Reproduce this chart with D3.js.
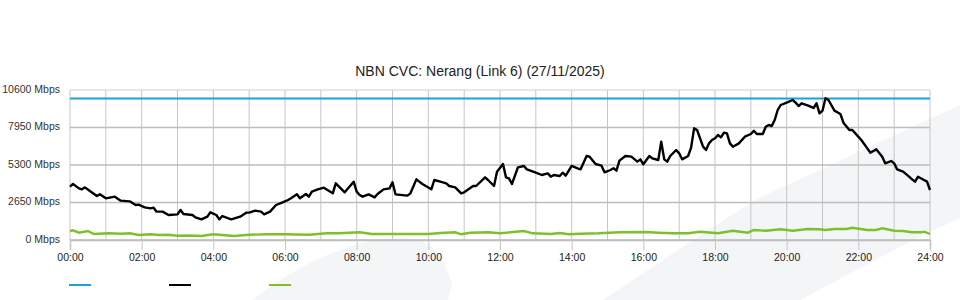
<!DOCTYPE html>
<html>
<head>
<meta charset="utf-8">
<script src="https://cdn.jsdelivr.net/npm/d3@7"></script>
<style>
  body { margin: 0; background: #fff; }
  text { font-family: "Liberation Sans", Arial, sans-serif; }
</style>
</head>
<body>
<div id="chart-holder"></div>
<script>
// chart data (minutes since midnight, Mbps)
let title = "NBN CVC: Nerang (Link 6) (27/11/2025)"
let capacityMbps = 10000
let yTicks = [0, 2650, 5300, 7950, 10600]
let xTickLabels = ["00:00","02:00","04:00","06:00","08:00","10:00","12:00","14:00","16:00","18:00","20:00","22:00","24:00"]

let inMinutes = [0,5,15,20,25,35,45,50,60,75,85,100,110,115,125,135,140,145,155,165,180,185,190,205,210,220,230,235,245,250,255,270,285,295,300,310,320,325,335,345,355,365,370,380,385,395,400,405,415,425,440,445,460,475,480,485,490,500,510,515,525,535,540,545,565,570,580,590,605,610,620,630,635,645,655,660,675,680,695,700,710,715,725,730,735,740,750,760,765,780,790,800,805,810,820,825,830,840,850,855,865,870,880,890,895,905,910,915,920,930,940,950,955,960,970,975,985,990,995,1000,1005,1015,1020,1025,1035,1040,1045,1050,1060,1065,1070,1075,1080,1085,1090,1095,1100,1105,1110,1120,1130,1140,1145,1150,1160,1165,1170,1175,1180,1185,1190,1200,1210,1215,1220,1225,1235,1240,1245,1250,1255,1260,1265,1270,1280,1290,1295,1305,1310,1315,1325,1335,1340,1350,1360,1365,1375,1380,1385,1395,1405,1410,1415,1420,1430,1435,1440]
let inMbps = [3768,3957,3650,3580,3720,3415,3110,3227,2945,3063,2780,2733,2473,2496,2308,2238,2284,2002,2002,1767,1814,2120,1837,1767,1602,1461,1649,1955,1767,1461,1696,1461,1649,1932,1932,2073,2002,1814,2002,2473,2638,2827,2945,3227,2945,3250,3062,3415,3580,3698,3298,4004,3368,4122,3415,3180,3062,3227,3015,3250,3580,3650,4075,3227,3133,3298,4286,3957,3580,4240,4122,4004,3816,3720,3298,3368,3816,3816,4428,4240,3816,4828,5370,4428,4357,3957,5135,5230,4993,4757,4593,4710,4475,4593,4523,4757,4545,5230,5066,4993,5936,5889,5370,5253,4781,4947,5066,4899,5606,5936,5889,5536,5700,5350,5936,5771,5653,6948,5700,5536,5936,6360,6124,5700,5936,6524,7891,7773,6595,6360,6830,7067,7185,7420,7255,7584,7537,6830,6595,6830,7301,7490,7725,7490,7490,8008,8127,8056,8480,9187,9540,9705,9893,9705,9470,9658,9517,9422,9328,9658,8952,9140,10013,9893,9140,8904,8291,7773,7773,7537,7067,6478,6170,6407,5889,5418,5583,5418,4993,4828,4475,4287,4122,4475,4240,4122,3533]

let outMinutes = [0,5,15,30,40,65,85,100,115,135,150,165,180,200,220,240,250,275,300,330,360,400,430,450,485,505,555,600,620,645,655,670,700,720,760,775,805,820,835,855,885,920,965,985,1010,1035,1055,1085,1110,1135,1145,1165,1190,1210,1235,1255,1265,1280,1300,1310,1335,1350,1360,1380,1395,1410,1425,1430,1440]
let outMbps = [636,685,516,636,424,473,445,473,353,403,353,375,304,318,283,403,375,283,375,403,403,375,473,473,544,424,424,424,495,544,403,516,544,473,636,473,424,495,403,445,473,544,565,516,473,473,587,473,657,516,707,657,756,657,777,756,707,777,777,869,707,707,827,657,636,544,544,587,424]

let seriesColors = ["#1ba1e2", "#000000", "#7dc02c"]

// dimensions of the page and the plot area
let width = 960, height = 300
let margin = {top: 90, right: 30, bottom: 60, left: 70}
let plotW = width - margin.left - margin.right,
    plotH = height - margin.top - margin.bottom

let svg = d3.select("#chart-holder")
  .append("svg")
    .attr("width", width)
    .attr("height", height)

// faint background swooshes
svg.append("path")
  .attr("d", "M253,300 C300,262 360,236 405,238 C432,240 442,252 452,285 L448,300 Z")
  .attr("fill", "#f4f5f7")
svg.append("path")
  .attr("d", "M603,300 L693,240 L755,200 L960,105 L960,218 L913,240 L800,300 Z")
  .attr("fill", "#f4f5f7")

let plot = svg.append("g")
  .attr("transform", "translate(" + margin.left + "," + margin.top + ")")

let x = d3.scaleLinear()
  .domain([0, 1440])
  .range([0, plotW])
let y = d3.scaleLinear()
  .domain([0, 10600])
  .range([plotH, 0])

// hourly vertical grid
plot.append("g")
  .selectAll("line")
  .data(d3.range(0, 1441, 60))
  .enter()
  .append("line")
    .attr("x1", d => x(d)).attr("x2", d => x(d))
    .attr("y1", 0).attr("y2", plotH)
    .attr("stroke", "#c6c6c6")
    .attr("stroke-width", 1)

// horizontal grid
plot.append("g")
  .selectAll("line")
  .data(yTicks)
  .enter()
  .append("line")
    .attr("x1", 0).attr("x2", plotW)
    .attr("y1", d => y(d)).attr("y2", d => y(d))
    .attr("stroke", d => d == 10600 ? "#cfcfcf" : "#bdbdbd")
    .attr("stroke-width", d => d == 10600 ? 1 : 1.5)

// y axis labels
let yAxis = plot.append("g")
  .call(d3.axisLeft(y).tickValues(yTicks).tickSize(0).tickPadding(10)
    .tickFormat(d => d + " Mbps"))
yAxis.select(".domain").remove()
yAxis.selectAll("text")
  .attr("dy", "0.2em")
  .style("font-size", "10.5px")
  .style("font-family", "'Liberation Sans', Arial, sans-serif")
  .attr("fill", "#333")

// x axis with 2-hour ticks
let xAxis = plot.append("g")
  .attr("transform", "translate(0," + plotH + ")")
  .call(d3.axisBottom(x).tickValues(d3.range(0, 1441, 120)).tickSize(10).tickPadding(4)
    .tickFormat((d, i) => xTickLabels[i]))
xAxis.select(".domain").attr("stroke", "#bdbdbd").attr("stroke-width", 1.5)
xAxis.selectAll(".tick line").attr("stroke", "#c6c6c6")
xAxis.selectAll("text")
  .style("font-size", "10.5px")
  .style("font-family", "'Liberation Sans', Arial, sans-serif")
  .attr("fill", "#222")

// series lines
let line = d3.line()
  .x(d => x(d[0]))
  .y(d => y(d[1]))

plot.append("path")
  .datum([[0, capacityMbps], [1440, capacityMbps]])
  .attr("d", line)
  .attr("fill", "none")
  .attr("stroke", seriesColors[0])
  .attr("stroke-width", 2)

plot.append("path")
  .datum(outMinutes.map((m, i) => [m, outMbps[i]]))
  .attr("d", line)
  .attr("fill", "none")
  .attr("stroke", seriesColors[2])
  .attr("stroke-width", 2.4)

plot.append("path")
  .datum(inMinutes.map((m, i) => [m, inMbps[i]]))
  .attr("d", line)
  .attr("fill", "none")
  .attr("stroke", seriesColors[1])
  .attr("stroke-width", 2.4)
  .attr("stroke-linejoin", "round")

// title
svg.append("text")
  .attr("x", width / 2)
  .attr("y", 76)
  .attr("text-anchor", "middle")
  .style("font-size", "14px")
  .attr("fill", "#222")
  .text(title)

// legend swatches (no labels in the original)
svg.append("g")
  .selectAll("line")
  .data(seriesColors)
  .enter()
  .append("line")
    .attr("x1", (d, i) => 69 + i * 100)
    .attr("x2", (d, i) => 91 + i * 100)
    .attr("y1", 285).attr("y2", 285)
    .attr("stroke", d => d)
    .attr("stroke-width", 2)
</script>
</body>
</html>
